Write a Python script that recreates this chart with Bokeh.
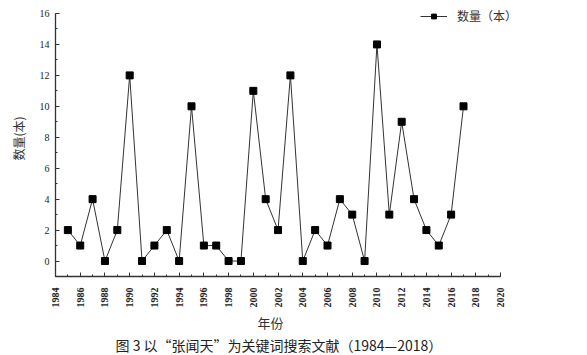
import math
from bokeh.plotting import figure
from bokeh.models import (Range1d, SingleIntervalTicker, Legend, LegendItem,
                          Title, ColumnDataSource)
from bokeh.embed import file_html
from bokeh.resources import INLINE

years = [1985, 1986, 1987, 1988, 1989, 1990, 1991, 1992, 1993, 1994, 1995,
         1996, 1997, 1998, 1999, 2000, 2001, 2002, 2003, 2004, 2005, 2006,
         2007, 2008, 2009, 2010, 2011, 2012, 2013, 2014, 2015, 2016, 2017]
counts = [2, 1, 4, 0, 2, 12, 0, 1, 2, 0, 10,
          1, 1, 0, 0, 11, 4, 2, 12, 0, 2, 1,
          4, 3, 0, 14, 3, 9, 4, 2, 1, 3, 10]
series_name = "数量（本）"
x_title = "年份"
y_title = "数量(本)"
caption = "图 3 以“张闻天”为关键词搜索文献（1984—2018）"

SERIF = "Liberation Serif"
CJK = "Noto Sans CJK SC"

src = ColumnDataSource(dict(x=years, y=counts))

p = figure(width=587, height=355, output_backend="svg", toolbar_location=None,
           x_range=Range1d(1984, 2022.5), y_range=Range1d(-1, 16.84),
           min_border_left=55, min_border_right=56, min_border_top=0,
           min_border_bottom=3)
p.outline_line_color = None
p.grid.visible = False
p.background_fill_color = "white"
p.border_fill_color = "white"

ln = p.line("x", "y", source=src, line_color="#333333", line_width=1)
sc = p.scatter("x", "y", source=src, marker="square", size=7,
               fill_color="black", line_color="black")

for ax in (p.xaxis[0], p.yaxis[0]):
    ax.axis_line_color = "#333333"
    ax.axis_line_width = 1.3
    ax.major_tick_line_color = "#333333"
    ax.minor_tick_line_color = "#333333"
    ax.major_tick_in = 4
    ax.major_tick_out = 0
    ax.minor_tick_in = 2
    ax.minor_tick_out = 0
    ax.major_label_text_font = SERIF
    ax.major_label_text_color = "#222222"
    ax.major_label_text_font_size = "10px"
    ax.axis_label_text_font = CJK
    ax.axis_label_text_font_style = "normal"
    ax.axis_label_text_font_size = "12px"
    ax.axis_label_text_color = "#333333"

p.xaxis.bounds = (1984, 2020)
p.yaxis.bounds = (-1, 16)
p.xaxis.ticker = SingleIntervalTicker(interval=2, num_minor_ticks=2)
p.yaxis.ticker = SingleIntervalTicker(interval=2, num_minor_ticks=2)
p.xaxis.major_label_orientation = math.pi / 2
p.xaxis.major_label_text_font_style = "bold"
p.xaxis.major_label_standoff = 11
p.yaxis.axis_label = y_title
p.yaxis.major_label_standoff = 6
p.yaxis.axis_label_standoff = 10

legend = Legend(items=[LegendItem(label=series_name, renderers=[ln, sc])],
                location=(365, 252), border_line_color=None,
                background_fill_alpha=0, label_text_font=CJK,
                label_text_font_size="12px", label_text_color="#333333",
                glyph_width=27, glyph_height=12, padding=0, spacing=0,
                margin=0, label_standoff=10)
p.add_layout(legend, "center")

xt = Title(text=x_title, align="left", text_font=CJK,
           text_font_size="13px", text_font_style="normal",
           text_color="#333333", offset=202, standoff=0)
p.add_layout(xt, "below")

cap = Title(text=caption, align="left", text_font=CJK,
            text_font_size="14px", text_font_style="normal",
            text_color="#222222", offset=60, standoff=2)
p.add_layout(cap, "below")

open("out.html", "w").write(file_html(p, INLINE))
